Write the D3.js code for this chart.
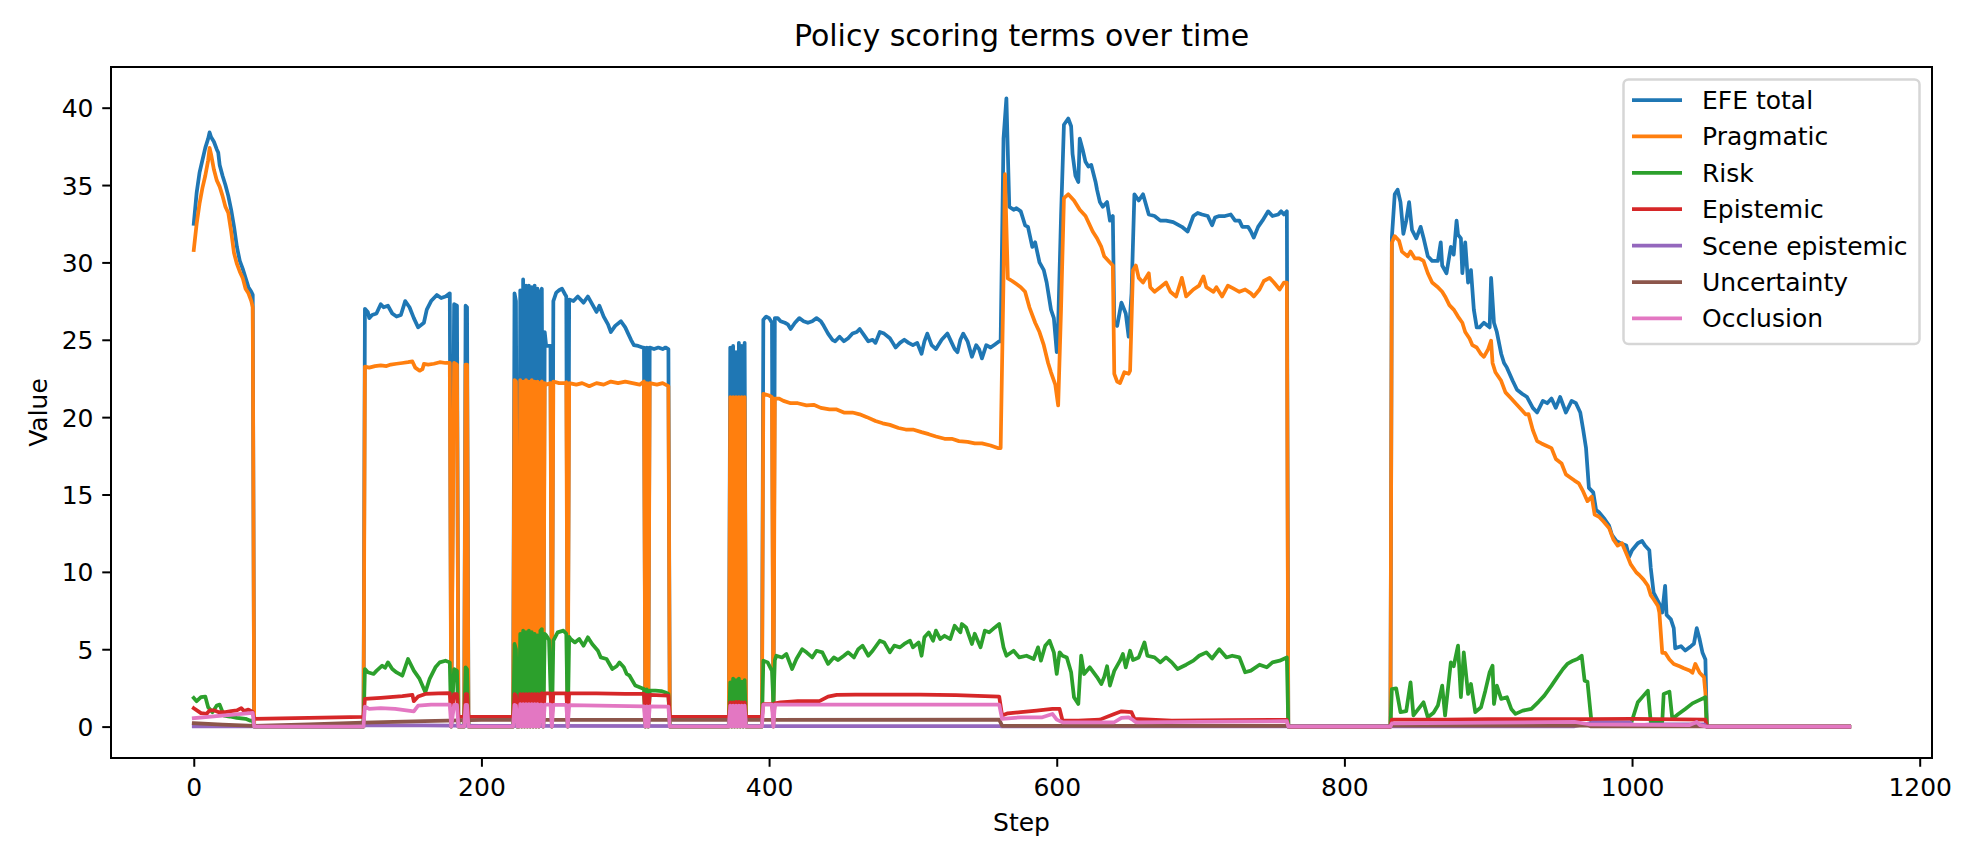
<!DOCTYPE html>
<html lang="en">
<head>
<meta charset="UTF-8" />
<title>Policy scoring terms over time</title>
<script src="https://d3js.org/d3.v7.min.js"></script>
<style>
  body { margin: 0; background: #fff; }
  svg text { font-family: "DejaVu Sans", sans-serif; fill: #000; }
</style>
</head>
<body>
<svg id="chart" width="1980" height="864"></svg>
<script>
// values as [step, value]
const efeTotal = [
  [0,32.5],[2,34.5],[4,35.8],[6,36.6],[8,37.4],[10,38.0],[11,38.4],[12,38.1],[14,37.8],[16,37.3],[17,37.1],[18,36.3],[20,35.6],[22,35.0],[24,34.3],[26,33.4],[28,32.3],[30,31.0],[32,30.1],[34,29.6],[36,29.0],[38,28.4],[40,28.1],[41,27.9],[42,0],
  [118,0],[119,27.0],[121,26.8],[122,26.4],[124,26.6],[127,26.7],[130,27.3],[132,27.1],[135,27.2],[138,26.7],[141,26.5],[144,26.6],[147,27.5],[150,27.1],[153,26.4],[156,25.8],[160,26.1],[162,26.95],[165,27.5],[169,27.9],[172,27.7],[175,27.8],[178,28.0],[179,0],[181,27.3],[183,27.2],[184,0],[188,0],[189,27.2],[190,27.1],[191,0],
  [222,0],[223,28.0],[224,27.5],[225,0],[226,0],[227,28.2],[228,0],[229,28.9],[230,0],[231,28.5],[232,0],[233,28.5],[234,0],[235,28.4],[236,0],[237,28.5],[238,0],[239,28.3],[240,0],[241,28.0],[242,28.3],[243,0],[244,25.5],[245,24.6],[248,24.6],[249,0],[250,27.5],[252,28.05],[254,28.2],[256,28.3],[258,27.96],[259,27.8],[260,0],[261,27.6],[264,27.5],[267,27.8],[271,27.4],[274,27.8],[277,27.3],[280,26.8],[282,27.2],[285,26.5],[288,26.0],[290,25.5],[293,25.9],[297,26.2],[300,25.8],[302,25.4],[304,25.0],[306,24.65],[309,24.6],[312,24.5],[313,24.5],[314,0],[315,24.5],[316,0],[317,24.5],[320,24.4],[323,24.5],[326,24.4],[328,24.5],[330,24.4],[331,0],
  [372,0],[373,24.5],[374,0],[375,24.6],[376,0],[377,24.2],[378,0],[379,24.8],[380,0],[381,24.6],[382,0],[383,24.8],[384,0],[395,0],[396,26.3],[398,26.5],[400,26.4],[402,26.1],[403,0],[404,26.4],[406,26.4],[408,26.2],[411,26.1],[413,26.0],[415,25.7],[418,26.1],[421,26.4],[424,26.2],[427,26.1],[430,26.2],[433,26.4],[436,26.2],[438,25.9],[441,25.4],[444,25.0],[446,24.9],[449,25.2],[452,24.9],[455,25.1],[458,25.4],[461,25.5],[463,25.7],[466,25.3],[469,24.9],[472,25.0],[474,24.8],[477,25.5],[480,25.4],[484,25.1],[486,24.8],[488,24.5],[491,24.8],[494,25.0],[497,24.8],[500,24.65],[503,24.8],[506,24.1],[508,24.9],[510,25.4],[513,24.65],[516,24.4],[520,25.0],[524,25.4],[527,24.8],[529,24.4],[531,24.2],[533,25.0],[535,25.4],[538,24.9],[541,23.9],[544,24.65],[546,24.4],[548,23.8],[551,24.65],[554,24.5],[557,24.7],[560,24.9],[561,24.9],[563,38.0],[565,40.6],[567,33.6],[570,33.4],[572,33.5],[575,33.3],[578,32.4],[580,32.3],[583,31.0],[585,31.3],[588,30.0],[591,29.5],[593,28.7],[596,26.95],[598,26.4],[600,24.2],[601,26.0],[603,33.0],[605,38.9],[608,39.3],[610,38.8],[611,37.0],[613,35.6],[615,35.2],[616,38.0],[618,37.3],[620,36.5],[622,36.2],[624,36.3],[627,35.2],[628,34.7],[630,33.9],[632,33.6],[635,33.9],[637,32.7],[639,33.0],[640,26.1],[642,25.9],[645,27.4],[648,26.7],[650,25.2],[652,28.0],[654,34.4],[657,34.0],[660,34.4],[664,33.1],[668,33.0],[672,32.7],[676,32.7],[681,32.6],[687,32.3],[691,32.0],[695,33.0],[698,33.2],[701,33.1],[705,33.0],[708,32.4],[710,32.9],[713,33.0],[717,33.0],[721,33.1],[724,32.7],[727,32.7],[729,32.3],[733,32.3],[735,32.0],[737,31.6],[740,32.3],[743,32.7],[747,33.3],[750,33.0],[754,33.1],[756,33.3],[758,33.1],[760,33.3],[761,0],
  [832,0],[833,31.6],[835,34.4],[837,34.7],[839,33.9],[841,31.85],[843,32.7],[845,33.9],[847,32.1],[850,31.56],[853,32.3],[855,31.6],[858,30.4],[861,30.1],[865,30.1],[867,31.3],[868,29.8],[871,29.3],[874,31.0],[876,30.5],[878,32.7],[879,31.8],[881,31.56],[882,29.3],[884,31.3],[886,28.7],[888,29.5],[890,26.95],[892,25.8],[894,25.8],[897,26.1],[901,25.8],[902,29.0],[904,26.1],[906,25.5],[909,24.1],[911,23.5],[913,23.2],[917,22.35],[920,21.77],[924,21.48],[927,21.3],[931,20.6],[934,20.3],[938,21.05],[941,20.9],[944,21.2],[947,20.6],[950,21.3],[954,20.3],[958,21.05],[961,20.9],[964,20.3],[966,19.2],[968,18.0],[970,15.43],[973,15.14],[975,14.0],[977,13.85],[981,13.4],[984,13.0],[986,12.4],[989,12.0],[992,11.85],[996,11.7],[998,10.97],[1000,11.4],[1004,11.85],[1007,12.0],[1009,11.7],[1012,11.4],[1013,10.25],[1015,8.66],[1019,7.94],[1021,7.37],[1023,9.1],[1024,7.22],[1027,6.93],[1029,6.36],[1030,5.06],[1034,5.2],[1037,4.92],[1041,5.2],[1043,5.35],[1045,6.36],[1047,5.64],[1049,4.77],[1051,4.34],[1052,0],[1151,0]
]

const pragmatic = [
  [0,30.8],[2,32.5],[4,33.8],[6,34.8],[8,35.6],[10,36.6],[11,37.4],[12,37.0],[14,36.0],[16,35.3],[18,34.9],[20,34.3],[22,33.6],[24,33.2],[26,32.0],[28,30.6],[30,29.9],[32,29.4],[34,29.0],[36,28.3],[38,28.0],[40,27.5],[41,27.1],[42,0],
  [118,0],[119,23.26],[122,23.2],[126,23.3],[130,23.35],[134,23.3],[137,23.4],[141,23.45],[145,23.5],[149,23.55],[152,23.6],[154,23.2],[157,23.0],[159,23.1],[160,23.44],[163,23.4],[167,23.45],[171,23.55],[175,23.5],[178,23.5],[179,0],[181,23.5],[183,23.4],[184,0],[188,0],[189,23.4],[190,23.4],[191,0],
  [222,0],[223,22.4],[224,22.3],[225,0],[226,0],[227,22.4],[228,0],[229,22.3],[230,0],[231,22.4],[232,0],[233,22.3],[234,0],[235,22.4],[236,0],[237,22.3],[238,0],[239,22.3],[240,0],[241,22.2],[242,22.3],[243,0],[244,22.2],[245,22.1],[248,22.2],[249,0],[250,22.3],[254,22.2],[258,22.2],[259,22.25],[260,0],[261,22.2],[266,22.1],[270,22.2],[275,22.0],[280,22.2],[285,22.1],[290,22.3],[295,22.2],[300,22.3],[305,22.2],[310,22.1],[313,22.3],[314,0],[315,22.2],[316,0],[317,22.2],[322,22.1],[326,22.2],[330,22.0],[331,0],
  [372,0],[373,21.3],[374,0],[375,21.3],[376,0],[377,21.3],[378,0],[379,21.3],[380,0],[381,21.3],[382,0],[383,21.3],[384,0],[395,0],[396,21.5],[400,21.4],[402,21.3],[403,0],[404,21.2],[407,21.2],[410,21.05],[415,20.9],[420,20.9],[426,20.76],[431,20.8],[436,20.6],[442,20.5],[447,20.5],[452,20.3],[458,20.3],[463,20.18],[468,20.0],[474,19.75],[479,19.6],[484,19.5],[490,19.3],[495,19.2],[500,19.2],[506,19.03],[511,18.9],[516,18.75],[522,18.6],[527,18.6],[532,18.45],[538,18.4],[543,18.3],[548,18.3],[554,18.17],[559,18.0],[561,18.0],[563,29.0],[564,35.7],[566,28.97],[569,28.8],[572,28.6],[575,28.4],[578,28.1],[581,27.1],[585,26.1],[588,25.5],[591,24.65],[594,23.5],[596,22.9],[599,22.1],[601,20.76],[603,27.0],[605,34.15],[608,34.4],[612,34.0],[616,33.4],[620,33.0],[623,32.4],[625,32.0],[628,31.56],[631,31.0],[633,30.4],[637,30.0],[639,29.8],[640,22.8],[642,22.3],[644,22.2],[647,22.9],[650,22.8],[651,23.0],[653,29.5],[655,29.8],[657,29.0],[660,28.7],[664,29.3],[665,28.4],[668,28.1],[672,28.4],[676,28.7],[679,28.1],[683,27.8],[687,29.0],[690,27.8],[695,28.25],[699,28.5],[702,29.1],[704,28.4],[709,28.1],[711,28.4],[715,27.8],[719,28.5],[723,28.3],[727,28.1],[731,28.25],[735,28.0],[737,27.8],[741,28.25],[744,28.8],[748,29.0],[751,28.7],[755,28.25],[758,28.7],[760,28.7],[761,0],
  [832,0],[833,31.27],[835,31.7],[838,31.4],[840,30.7],[844,30.4],[846,30.7],[849,30.26],[852,30.26],[855,30.1],[858,29.3],[861,28.7],[865,28.4],[868,28.1],[870,27.8],[873,27.24],[876,26.95],[879,26.5],[882,26.1],[884,25.5],[887,25.08],[889,24.65],[892,24.5],[895,24.07],[897,23.9],[900,24.4],[902,24.94],[903,23.5],[905,22.9],[909,22.35],[912,21.6],[916,21.2],[919,20.9],[923,20.5],[926,20.18],[928,20.2],[931,19.17],[934,18.45],[937,18.3],[940,18.17],[944,18.0],[947,17.3],[951,17.0],[954,16.3],[957,16.1],[960,15.9],[963,15.72],[966,15.2],[969,14.57],[972,14.86],[974,13.7],[977,13.56],[980,13.27],[984,12.84],[987,12.1],[990,11.7],[993,11.85],[997,10.97],[999,10.5],[1003,9.96],[1005,9.8],[1008,9.5],[1011,9.1],[1013,8.5],[1015,8.23],[1018,7.8],[1019,7.37],[1021,4.77],[1023,4.77],[1026,4.34],[1029,4.05],[1033,3.9],[1036,3.77],[1040,3.62],[1042,3.48],[1044,4.05],[1047,3.48],[1050,3.2],[1051,2.18],[1052,0],[1151,0]
]

const risk = [
  [0,1.85],[2,1.64],[5,1.9],[8,1.94],[10,1.25],[13,0.93],[16,1.36],[18,1.42],[21,0.71],[25,0.65],[30,0.56],[36,0.5],[39,0.39],[41,0.4],[42,0],
  [118,0],[119,3.72],[121,3.51],[125,3.4],[127,3.6],[131,3.94],[133,3.8],[135,4.15],[138,3.72],[141,3.5],[145,3.29],[149,4.37],[153,3.62],[157,3.08],[161,2.22],[164,3.08],[168,3.83],[171,4.15],[175,4.26],[178,4.15],[179,0],[181,3.72],[183,3.6],[184,0],[188,0],[189,3.83],[190,3.7],[191,0],
  [222,0],[223,5.34],[224,5.0],[225,0],[226,0],[227,6.0],[228,0],[229,6.2],[230,0],[231,6.1],[232,0],[233,6.2],[234,0],[235,6.1],[236,0],[237,6.0],[238,0],[239,5.9],[240,0],[241,6.2],[242,6.3],[243,0],[244,6.0],[245,5.9],[247,5.6],[248,2.54],[249,0],[250,5.55],[253,6.09],[257,6.2],[259,6.0],[260,0],[261,5.8],[262,5.66],[265,5.44],[268,5.66],[271,5.23],[274,5.77],[277,5.34],[281,4.9],[283,4.47],[287,4.37],[291,3.72],[294,3.9],[296,4.15],[299,3.83],[301,3.4],[303,3.29],[307,2.65],[310,2.54],[313,2.43],[314,0],[315,2.4],[316,0],[317,2.32],[321,2.32],[325,2.3],[328,2.2],[330,2.11],[331,0],
  [372,0],[373,2.86],[374,0],[375,3.1],[376,0],[377,3.0],[378,0],[379,3.1],[380,0],[381,2.9],[382,0],[383,3.0],[384,0],[395,0],[396,4.26],[399,4.15],[402,3.6],[403,1.5],[404,4.3],[405,4.58],[409,4.47],[412,4.69],[416,3.72],[419,4.37],[423,5.0],[426,4.8],[430,4.47],[433,4.9],[437,4.8],[441,4.05],[445,4.47],[448,4.3],[452,4.58],[455,4.8],[459,4.47],[462,5.0],[465,5.23],[469,4.58],[472,4.9],[477,5.55],[480,5.44],[484,4.8],[487,5.23],[491,5.12],[494,5.34],[498,5.55],[500,5.12],[504,5.44],[506,4.58],[508,5.77],[511,6.09],[514,5.55],[516,6.2],[519,5.66],[522,5.87],[526,5.66],[529,6.52],[533,6.09],[534,6.63],[537,6.41],[541,5.34],[543,6.0],[547,5.12],[550,6.2],[553,6.09],[557,6.41],[560,6.63],[563,5.12],[565,4.58],[570,4.9],[574,4.47],[579,4.58],[584,4.37],[587,5.12],[589,4.26],[592,5.23],[595,5.55],[598,4.8],[600,3.4],[602,4.8],[604,4.58],[607,4.47],[610,3.51],[612,1.9],[615,1.46],[617,4.58],[619,3.4],[623,3.83],[628,3.2],[631,2.75],[633,3.2],[635,3.9],[637,2.65],[640,3.6],[644,4.26],[646,4.69],[648,3.83],[651,4.9],[653,4.3],[657,4.47],[661,5.44],[663,4.58],[668,4.47],[672,4.15],[676,4.47],[680,4.15],[684,3.72],[690,4.0],[695,4.26],[699,4.58],[704,4.8],[708,4.4],[713,5.0],[718,4.47],[722,4.58],[727,4.47],[731,3.51],[735,3.62],[741,4.0],[746,3.83],[750,4.15],[755,4.26],[760,4.47],[761,0],
  [832,0],[833,2.43],[836,2.47],[839,0.93],[843,1.0],[846,2.86],[848,0.72],[855,1.57],[858,0.6],[862,0.9],[865,1.36],[868,2.65],[870,0.72],[874,4.15],[876,3.9],[879,5.23],[881,1.9],[883,4.8],[886,2.11],[888,2.75],[891,0.93],[895,1.25],[898,2.32],[901,3.51],[903,3.94],[904,1.46],[906,2.65],[909,1.79],[913,1.9],[916,1.14],[919,0.82],[924,1.03],[930,1.14],[935,1.6],[939,2.0],[944,2.65],[948,3.2],[952,3.72],[955,4.05],[959,4.26],[962,4.37],[965,4.58],[967,2.97],[969,2.9],[972,0.1],[999,0.1],[1004,1.57],[1008,2.0],[1011,2.32],[1013,0.3],[1021,0.3],[1022,2.11],[1026,2.26],[1028,0.5],[1032,0.8],[1037,1.14],[1042,1.5],[1046,1.68],[1051,1.9],[1052,0],[1151,0]
]

const epistemic = [
  [0,1.19],[5,0.87],[9,0.83],[11,1.05],[14,1.05],[17,0.94],[22,0.94],[26,1.0],[30,1.05],[33,1.19],[35,1.0],[38,1.1],[41,0.95],[42,0.5],
  [118,0.62],[119,1.79],[130,1.86],[145,1.97],[152,2.05],[153,1.64],[156,1.94],[161,2.11],[170,2.15],[178,2.17],[179,0.62],[181,2.1],[183,2.1],[184,0.62],[188,0.62],[189,2.1],[190,2.1],[191,0.62],
  [222,0.62],[223,2.1],[224,2.0],[225,0.62],[226,0.62],[227,2.1],[228,0.62],[229,2.1],[230,0.62],[231,2.1],[232,0.62],[233,2.1],[234,0.62],[235,2.1],[236,0.62],[237,2.1],[238,0.62],[239,2.1],[240,0.62],[241,2.1],[242,2.15],[243,0.62],[244,2.15],[248,2.15],[249,0.62],[250,2.15],[259,2.15],[260,0.62],[261,2.15],[280,2.15],[300,2.12],[313,2.11],[314,0.62],[315,2.05],[316,0.62],[317,2.05],[330,2.0],[331,0.62],
  [372,0.62],[373,1.57],[374,0.62],[375,1.57],[376,0.62],[377,1.6],[378,0.62],[379,1.6],[380,0.62],[381,1.57],[382,0.62],[383,1.57],[384,0.62],[395,0.62],[396,1.46],[402,1.46],[403,0.62],[404,1.5],[408,1.57],[420,1.64],[435,1.64],[441,1.94],[447,2.05],[460,2.07],[505,2.07],[530,2.03],[560,1.94],[562,0.71],[566,0.86],[575,0.93],[586,1.03],[597,1.14],[602,1.14],[604,0.39],[615,0.39],[630,0.45],[640,0.82],[645,0.99],[652,0.93],[654,0.5],[680,0.39],[720,0.42],[760,0.43],[761,0],
  [832,0],[833,0.45],[870,0.45],[900,0.48],[972,0.48],[1000,0.5],[1051,0.45],[1052,0],[1151,0]
]

const sceneEpistemic = [
  [0,0.02],[118,0.02],[119,0.08],[160,0.08],[200,0.04],[560,0.03],[562,0.01],[960,0.02],[972,0.25],[999,0.25],[1001,0.05],[1013,0.15],[1050,0.15],[1052,0],[1151,0]
]

const uncertainty = [
  [0,0.22],[20,0.12],[42,0.05],[80,0.15],[118,0.25],[160,0.35],[200,0.43],[300,0.43],[560,0.45],[562,0.05],[761,0.05],[762,0],[832,0],[833,0.07],[969,0.07],[971,0.02],[1052,0.02],[1053,0],[1151,0]
]

const occlusion = [
  [0,0.54],[41,0.88],[42,0],
  [118,0],[119,1.29],[122,1.14],[130,1.2],[140,1.14],[153,0.99],[156,1.36],[165,1.42],[178,1.42],[179,0],[181,1.4],[183,1.4],[184,0],[188,0],[189,1.4],[190,1.4],[191,0],
  [222,0],[223,1.4],[224,1.35],[225,0],[226,0],[227,1.45],[228,0],[229,1.45],[230,0],[231,1.45],[232,0],[233,1.45],[234,0],[235,1.45],[236,0],[237,1.45],[238,0],[239,1.45],[240,0],[241,1.42],[242,1.42],[243,0],[244,1.42],[248,1.42],[249,0],[250,1.4],[259,1.4],[260,0],[261,1.38],[313,1.3],[314,0],[315,1.3],[316,0],[317,1.3],[330,1.29],[331,0],
  [372,0],[373,1.36],[374,0],[375,1.36],[376,0],[377,1.36],[378,0],[379,1.36],[380,0],[381,1.36],[382,0],[383,1.36],[384,0],[395,0],[396,1.42],[402,1.42],[403,0],[404,1.42],[560,1.42],[562,0.5],[575,0.6],[590,0.6],[597,0.82],[600,0.45],[604,0.28],[640,0.28],[645,0.56],[650,0.6],[653,0.43],[655,0.28],[700,0.3],[760,0.35],[761,0],
  [832,0],[833,0.2],[900,0.25],[960,0.3],[970,0.15],[1040,0.1],[1045,0.3],[1047,0.1],[1052,0],[1151,0]
]

const seriesNames = ['EFE total', 'Pragmatic', 'Risk', 'Epistemic', 'Scene epistemic', 'Uncertainty', 'Occlusion']
const seriesColors = ['#1f77b4', '#ff7f0e', '#2ca02c', '#d62728', '#9467bd', '#8c564b', '#e377c2']
const xTicks = [0, 200, 400, 600, 800, 1000, 1200]
const yTicks = [0, 5, 10, 15, 20, 25, 30, 35, 40]

const allSeries = [efeTotal, pragmatic, risk, epistemic, sceneEpistemic, uncertainty, occlusion]

let width = 1980
let height = 864
let plot = { left: 111, right: 1932, top: 67, bottom: 758 }

// matplotlib style 5% padding on the data range
let xExt = d3.extent(allSeries.flat(), d => d[0])
let yExt = d3.extent(allSeries.flat(), d => d[1])
let xPad = (xExt[1] - xExt[0]) * 0.05
let yPad = (yExt[1] - yExt[0]) * 0.05

let x = d3.scaleLinear().domain([xExt[0] - xPad, xExt[1] + xPad]).range([plot.left, plot.right])
let y = d3.scaleLinear().domain([yExt[0] - yPad, yExt[1] + yPad]).range([plot.bottom, plot.top])

let svg = d3.select('#chart')

svg.append('rect').attr('width', width).attr('height', height).attr('fill', '#fff')

let line = d3.line().x(d => x(d[0])).y(d => y(d[1]))

svg.append('g')
  .selectAll('path')
  .data(allSeries)
  .enter()
  .append('path')
  .attr('d', line)
  .attr('fill', 'none')
  .attr('stroke', (d, i) => seriesColors[i])
  .attr('stroke-width', 3.75)
  .attr('stroke-linejoin', 'round')
  .attr('stroke-linecap', 'square')

// axes
let xAxis = svg.append('g')
  .attr('transform', `translate(0,${plot.bottom})`)
  .call(d3.axisBottom(x).tickValues(xTicks).tickFormat(d3.format('d')).tickSize(8.75).tickPadding(11))
let yAxis = svg.append('g')
  .attr('transform', `translate(${plot.left},0)`)
  .call(d3.axisLeft(y).tickValues(yTicks).tickFormat(d3.format('d')).tickSize(8.75).tickPadding(8.75))

for (let ax of [xAxis, yAxis]) {
  ax.select('.domain').remove()
  ax.selectAll('line').attr('stroke', '#000').attr('stroke-width', 2)
  ax.selectAll('text')
    .style('font-family', '"DejaVu Sans", sans-serif')
    .style('font-size', '25px')
    .attr('fill', '#000')
}
yAxis.selectAll('text').attr('dy', '0.36em')

// spines
svg.append('rect')
  .attr('x', plot.left).attr('y', plot.top)
  .attr('width', plot.right - plot.left).attr('height', plot.bottom - plot.top)
  .attr('fill', 'none').attr('stroke', '#000').attr('stroke-width', 2)

// title and labels
svg.append('text')
  .attr('x', (plot.left + plot.right) / 2).attr('y', 46)
  .attr('text-anchor', 'middle').style('font-size', '30px')
  .text('Policy scoring terms over time')
svg.append('text')
  .attr('x', (plot.left + plot.right) / 2).attr('y', 831)
  .attr('text-anchor', 'middle').style('font-size', '25px')
  .text('Step')
svg.append('text')
  .attr('transform', `translate(47,${(plot.top + plot.bottom) / 2}) rotate(-90)`)
  .attr('text-anchor', 'middle').style('font-size', '25px')
  .text('Value')

// legend
let legend = svg.append('g')
legend.append('rect')
  .attr('x', 1623.5).attr('y', 79.5).attr('width', 296).attr('height', 264.5)
  .attr('rx', 5).attr('fill', 'rgba(255,255,255,0.8)')
  .attr('stroke', '#d6d6d6').attr('stroke-width', 2.5)

let rows = legend.selectAll('g.row')
  .data(seriesNames)
  .enter()
  .append('g')
  .attr('class', 'row')
  .attr('transform', (d, i) => `translate(0,${100 + i * 36.4})`)
rows.append('line')
  .attr('x1', 1632).attr('x2', 1682)
  .attr('stroke', (d, i) => seriesColors[i]).attr('stroke-width', 3.75)
rows.append('text')
  .attr('x', 1702).attr('y', 9)
  .style('font-size', '25px')
  .text(d => d)
</script>
</body>
</html>
